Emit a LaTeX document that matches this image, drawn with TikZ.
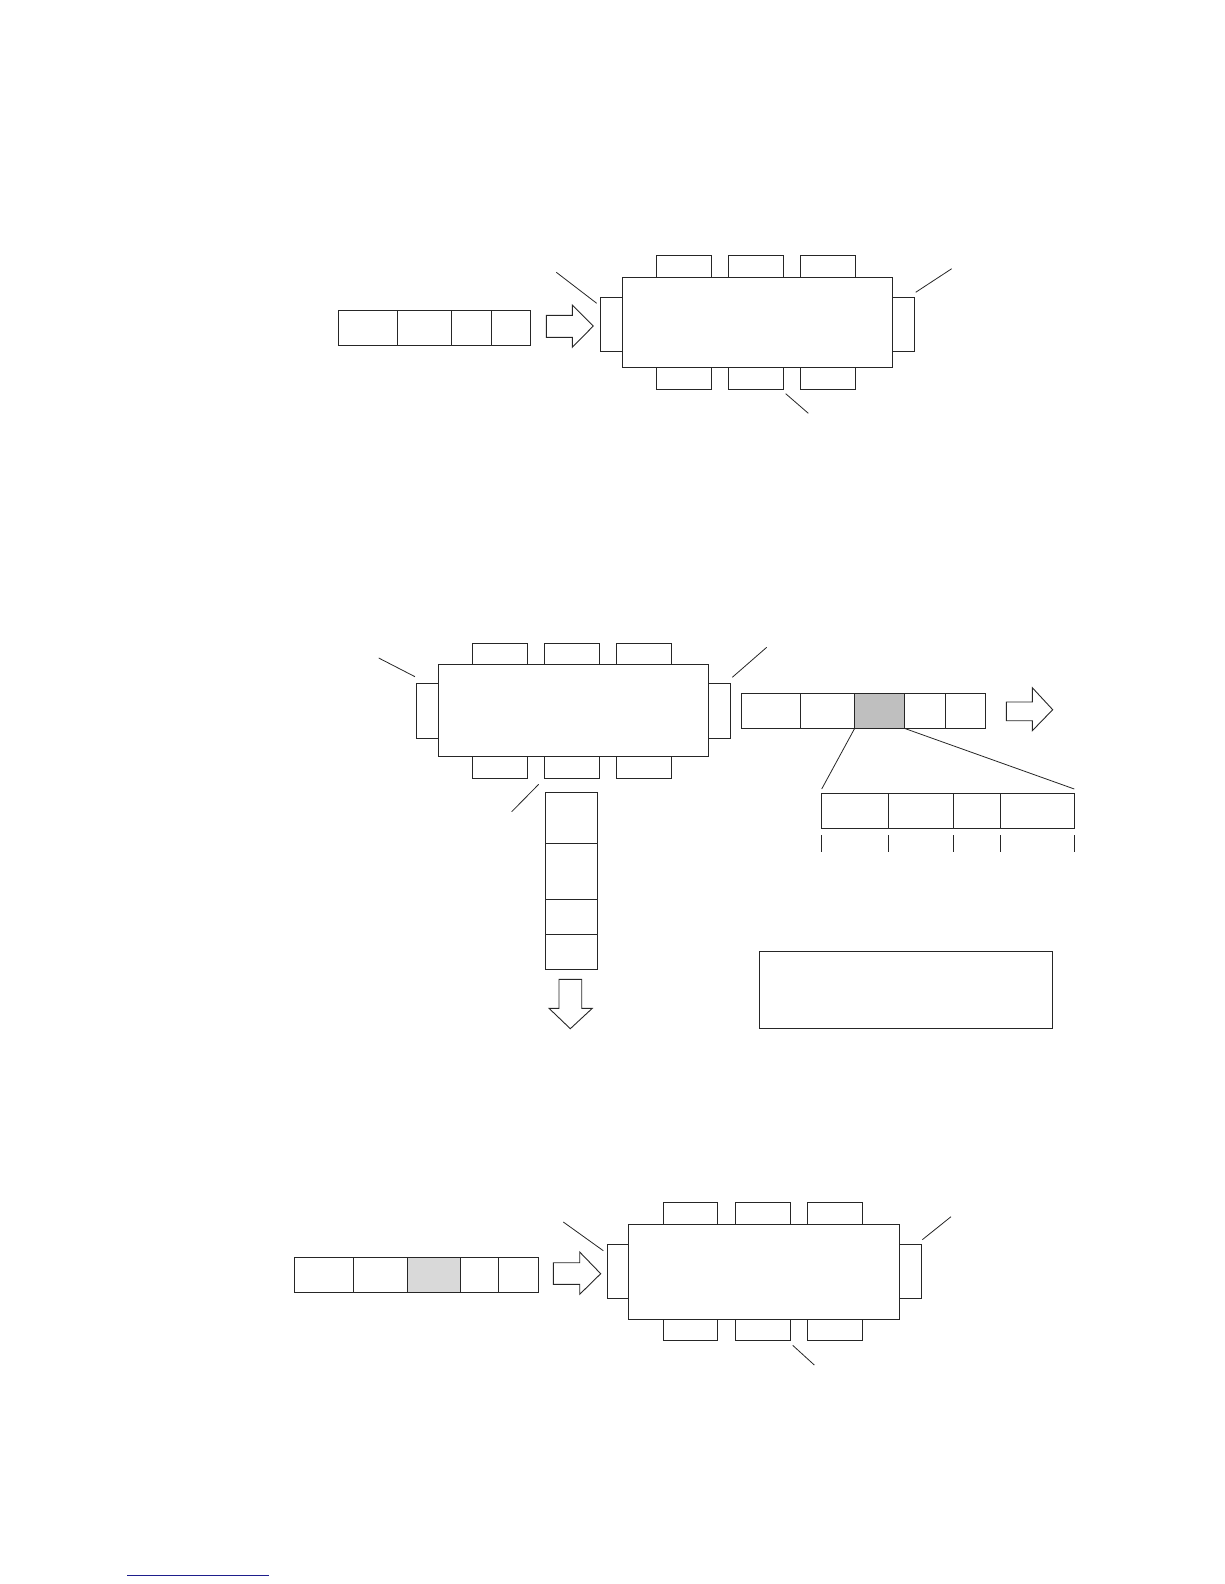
\documentclass[tikz,border=0pt]{standalone}
\usetikzlibrary{calc}
\tikzset{
  box/.style={draw=black!85, line width=0.9pt, fill=white},
  lead/.style={draw=black!85, line width=0.8pt},
  fat/.style={draw=black!85, line width=0.9pt, fill=white, line join=miter},
}
\newcommand\rbox[5][]{\draw[box,#1] (#2,#3) rectangle (#4,#5);}
\begin{document}
\begin{tikzpicture}[x=1pt,y=-1pt]
\useasboundingbox (0,0) rectangle (1224,1584);
% ===== Group 1 =====
% strip
\rbox{338.3}{310.3}{530.7}{345.3}
\draw[box] (397.3,310.3) -- (397.3,345.3);
\draw[box] (451.7,310.3) -- (451.7,345.3);
\draw[box] (491.7,310.3) -- (491.7,345.3);
% arrow
\draw[fat] (546.3,315.3) -- (572.3,315.3) -- (572.3,305) -- (593.3,326) -- (572.3,347.3) -- (572.3,337.3) -- (546.3,337.3) -- cycle;
% table + chairs
\rbox{600.3}{297.3}{622.3}{351.3}
\rbox{892.7}{297.3}{914.7}{351.3}
\foreach \a/\b in {656/711.7,728.3/783.7,800.3/855.7}{
  \rbox{\a}{255}{\b}{277.3}
  \rbox{\a}{367.3}{\b}{389.3}
}
\rbox{622.3}{277.3}{892.7}{367.3}
% leaders
\draw[lead] (556.3,272.3) -- (596.7,303.3);
\draw[lead] (915.7,292.3) -- (951.7,268.7);
\draw[lead] (785.7,393.7) -- (808.3,413.3);
% ===== Group 2 =====
\rbox{416.3}{683.3}{438.3}{738.3}
\rbox{708.3}{683.3}{730.3}{738.3}
\foreach \a/\b in {472.3/527.3,544.3/599.3,616.3/671.3}{
  \rbox{\a}{643.3}{\b}{664.3}
  \rbox{\a}{756.3}{\b}{778.3}
}
\rbox{438.3}{664.3}{708.3}{756.3}
\draw[lead] (378.7,658) -- (415,676.7);
\draw[lead] (732.3,677.3) -- (766.7,647.3);
\draw[lead] (538.7,784.3) -- (511.7,811.7);
% vertical strip
\rbox{545.7}{792.3}{597.3}{969}
\draw[box] (545.7,843) -- (597.3,843);
\draw[box] (545.7,899) -- (597.3,899);
\draw[box] (545.7,934.3) -- (597.3,934.3);
% down arrow
\draw[fat] (559,979.3) -- (581.7,979.3) -- (581.7,1008.3) -- (592.3,1008.3) -- (570.3,1028.7) -- (549,1008.3) -- (559,1008.3) -- cycle;
% horizontal strip with gray cell
\rbox{741.3}{693.3}{985.7}{728.3}
\fill[gray!50] (854.7,693.3) rectangle (904.3,728.3);
\draw[box,fill=none] (854.7,693.3) rectangle (904.3,728.3);
\draw[box] (800.3,693.3) -- (800.3,728.3);
\draw[box] (945.7,693.3) -- (945.7,728.3);
% right arrow
\draw[fat] (1006.3,702) -- (1032.3,702) -- (1032.3,687.7) -- (1052.7,709.7) -- (1032.3,730.7) -- (1032.3,720.7) -- (1006.3,720.7) -- cycle;
% zoom lines
\draw[lead] (854.7,728.3) -- (821.7,789);
\draw[lead] (904.3,728.3) -- (1074.3,789);
% detail strip
\rbox{821.7}{793.3}{1074.3}{828.3}
\foreach \x in {888.7,953.7,1000.7}{\draw[box] (\x,793.3) -- (\x,828.3);}
\foreach \x in {821.3,888.3,953.3,1000.3,1074.3}{\draw[lead] (\x,835) -- (\x,851.7);}
% text box
\rbox{759.3}{951.3}{1052.7}{1028.3}
% ===== Group 3 =====
\rbox{294.3}{1257.3}{538.7}{1292.3}
\fill[gray!30] (407.7,1257.3) rectangle (460.3,1292.3);
\draw[box,fill=none] (407.7,1257.3) rectangle (460.3,1292.3);
\draw[box] (353.3,1257.3) -- (353.3,1292.3);
\draw[box] (498.3,1257.3) -- (498.3,1292.3);
\draw[fat] (553.3,1262.7) -- (579.7,1262.7) -- (579.7,1252) -- (600.7,1273.7) -- (579.7,1294.3) -- (579.7,1284.3) -- (553.3,1284.3) -- cycle;
\rbox{607.3}{1244.3}{628.3}{1298.3}
\rbox{899.3}{1244.3}{921.3}{1298.3}
\foreach \a/\b in {663.3/717.3,735.3/790.3,807.3/862.3}{
  \rbox{\a}{1202.3}{\b}{1224.3}
  \rbox{\a}{1319.3}{\b}{1340.3}
}
\rbox{628.3}{1224.3}{899.3}{1319.3}
\draw[lead] (563.3,1222) -- (603.3,1250.7);
\draw[lead] (922.3,1239.7) -- (951,1216.7);
\draw[lead] (792.7,1345.3) -- (814.3,1365);
% footnote rule
\draw[draw={rgb,255:red,30;green,30;blue,140}, line width=0.9pt] (127.3,1575) -- (269,1575);
\end{tikzpicture}
\end{document}
